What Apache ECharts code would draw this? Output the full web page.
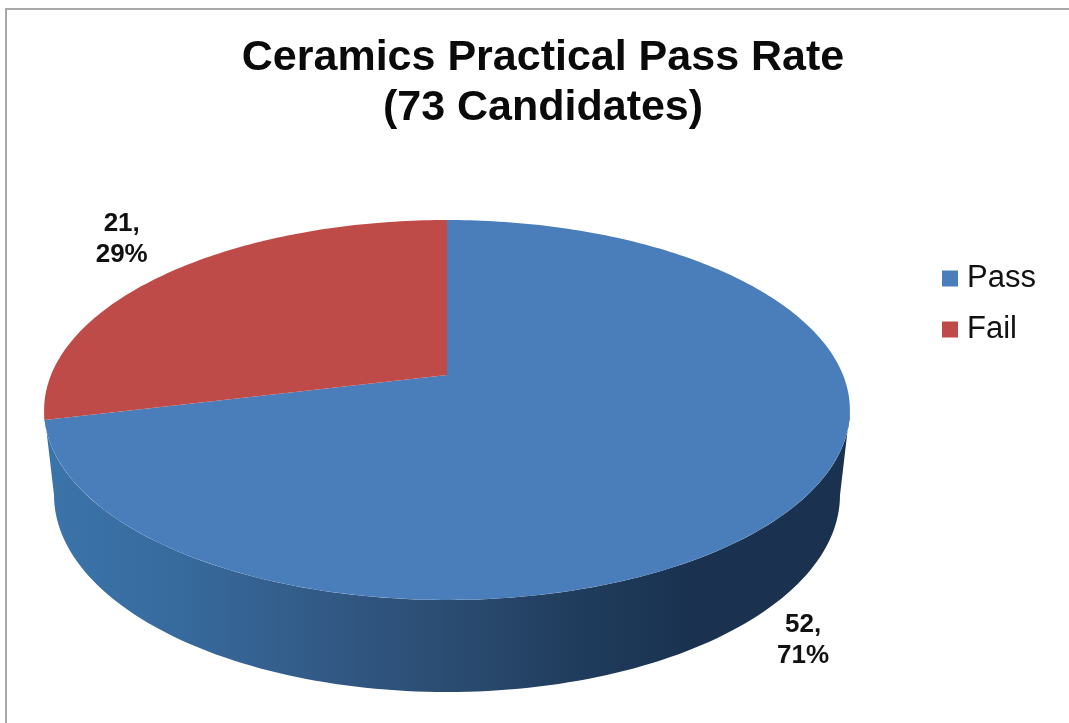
<!DOCTYPE html>
<html>
<head>
<meta charset="utf-8">
<style>html,body{margin:0;padding:0;background:#fff}#c{width:1069px;height:723px}</style>
<script src="https://cdn.jsdelivr.net/npm/echarts@6/dist/echarts.min.js"></script>
</head>
<body>
<div id="c"></div>
<script>
const categories = ['Pass', 'Fail'];
const values = [52, 21];
const colors = ['#4a7ebb', '#be4b48'];
const titleLines = ['Ceramics Practical Pass Rate', '(73 Candidates)'];

const total = values.reduce((a, b) => a + b, 0);
const FF = '"Liberation Sans", Arial, sans-serif';

const apex = { x: 447, y: 375 };
const persp = { a: 396, b: 183.5, k: 0.1842 };
function project(deg) {
  const r = deg * Math.PI / 180, u = Math.sin(r), v = -Math.cos(r);
  const w = 1 - persp.k * v;
  return [apex.x + persp.a * u / w, apex.y + persp.b * v / w];
}
function arc(from, to) {
  const pts = [], n = Math.max(8, Math.ceil(Math.abs(to - from)));
  for (let i = 0; i <= n; i++) pts.push(project(from + (to - from) * i / n));
  return pts;
}
const bottom = { x: 447, y: 495, rx: 393, ry: 197 };
function wallPoints() {
  const topFront = [];
  for (let i = 0; i <= 120; i++) {
    const t = Math.PI * i / 120;
    topFront.push([447 + 403 * Math.cos(t), 410 + 190 * Math.sin(t)]);
  }
  const botFront = [];
  for (let i = 120; i >= 0; i--) {
    const t = Math.PI * i / 120;
    botFront.push([bottom.x + bottom.rx * Math.cos(t), bottom.y + bottom.ry * Math.sin(t)]);
  }
  return topFront.concat(botFront);
}
const wallGradient = {
  type: 'linear', x: 44, y: 0, x2: 850, y2: 0, global: true,
  colorStops: [
    { offset: 0, color: '#3b74aa' },
    { offset: 0.16, color: '#376b9e' },
    { offset: 0.32, color: '#335c89' },
    { offset: 0.5, color: '#2b4c72' },
    { offset: 0.68, color: '#1f3b5b' },
    { offset: 0.8, color: '#1a3250' },
    { offset: 1, color: '#1a3250' }
  ]
};
const labelOffsets = [[5, 137], [-46, -34]];

function sliceSeries(idx) {
  const start = values.slice(0, idx).reduce((a, b) => a + b, 0) / total * 360;
  const end = start + values[idx] / total * 360;
  return {
    type: 'custom',
    name: categories[idx],
    coordinateSystem: 'none',
    itemStyle: { color: colors[idx] },
    clip: false,
    silent: true,
    data: [values[idx]],
    renderItem: function () {
      const children = [];
      if (idx === 0) {
        children.push({ type: 'polygon', shape: { points: wallPoints() }, style: { fill: wallGradient } });
      }
      children.push({
        type: 'polygon',
        shape: { points: [[apex.x, apex.y]].concat(arc(start, end)) },
        style: { fill: colors[idx] }
      });
      const mid = project((start + end) / 2), off = labelOffsets[idx];
      children.push({
        type: 'text', z2: 10,
        style: {
          x: mid[0] + off[0], y: mid[1] + off[1],
          text: values[idx] + ',\n' + Math.round(values[idx] / total * 100) + '%',
          font: 'bold 26px ' + FF, lineHeight: 31,
          fill: '#111', align: 'center', verticalAlign: 'middle'
        }
      });
      return { type: 'group', children };
    }
  };
}

const chart = echarts.init(document.getElementById('c'), null, { renderer: 'canvas' });
chart.setOption({
  animation: false,
  backgroundColor: '#fff',
  title: {
    text: titleLines.join('\n'),
    left: 538, top: 28, textAlign: 'center',
    textStyle: { fontFamily: FF, fontWeight: 'bold', fontSize: 43, lineHeight: 50, color: '#0a0a0a' }
  },
  legend: {
    data: categories, orient: 'vertical', left: 942, top: 263,
    icon: 'rect', itemWidth: 16, itemHeight: 16, itemGap: 20, padding: 0,
    textStyle: { fontFamily: FF, fontSize: 31, color: '#111', padding: [0, 0, 0, 4] }
  },
  graphic: [{
    type: 'rect', silent: true,
    shape: { x: 6, y: 9, width: 1080, height: 730 },
    style: { fill: 'none', stroke: '#a8a8a8', lineWidth: 2 }
  }],
  series: [sliceSeries(0), sliceSeries(1)]
});
</script>
</body>
</html>
